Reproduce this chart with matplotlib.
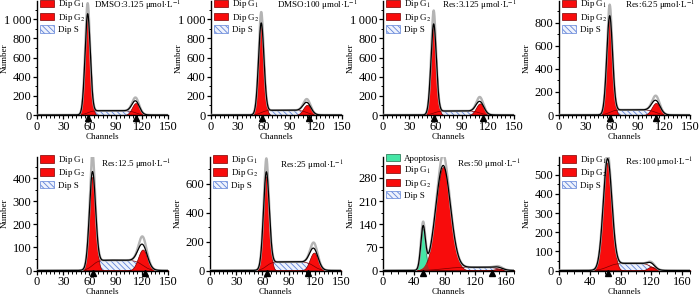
import numpy as np
import matplotlib
matplotlib.use('Agg')
import matplotlib.pyplot as plt
from matplotlib.patches import Patch
from matplotlib.ticker import FuncFormatter, MultipleLocator, AutoMinorLocator
import matplotlib.transforms as mtransforms

plt.rcParams['font.family'] = ['Liberation Serif', 'DejaVu Serif']
plt.rcParams['mathtext.fontset'] = 'stix'
plt.rcParams['hatch.linewidth'] = 0.6

# ---------------- data ----------------
titles = ["DMSO:3.125", "DMSO:100", "Res:3.125", "Res:6.25",
          "Res:12.5", "Res:25", "Res:50", "Res:100"]
x_max = [150, 150, 150, 150, 150, 150, 170, 170]
x_step = [30, 30, 30, 30, 30, 30, 40, 40]
y_max = [1190, 1190, 1190, 990, 495, 790, 345, 595]
y_step = [200, 200, 200, 200, 100, 200, 70, 100]

g1_pos = [58, 57.5, 58, 58, 63.5, 64.5, 78, 63]
g1_height = [1035, 936, 930, 840, 407, 654, 313, 565]
g1_raw_height = [1145, 1050, 1070, 936, 489, 747, 346, 590]
g1_width = [3.0, 3.1, 3.1, 3.3, 3.5, 3.3, 9.5, 5.6]

g2_pos = [113, 110, 111, 111, 121, 119, 150, 120]
g2_height = [125, 106, 121, 105, 91, 124, 5, 20]
g2_raw_height = [160, 141, 167, 145, 125, 163, 8, 25]
g2_width = [4.3, 4.5, 4.5, 4.8, 5.3, 4.8, 6.0, 5.0]

s_level = [45, 50, 42, 45, 45, 60, 10, 38]

apop_pos = [None, None, None, None, None, None, 52, None]
apop_height = [0, 0, 0, 0, 0, 0, 128, 0]
apop_raw_height = [0, 0, 0, 0, 0, 0, 140, 0]
apop_width = [1, 1, 1, 1, 1, 1, 3.0, 1]

tri_pos = [[58, 113], [58, 112], [58, 114], [58, 111],
           [64, 124], [65, 112], [52, 142], [63]]

# ---------------- layout ----------------
W, H = 700, 296
ax_left_px = [37, 211, 383, 559, 37, 210, 383, 559]
ax_bottom_px = [115, 115, 115, 115, 270.5, 270.5, 270.5, 270.5]
ax_w_px = 131
ax_h_px = 114
note_dx_px = [57, 66, 59, 66, 64, 70, 74, 66]
note_y = [0.955, 0.955, 0.955, 0.955, 0.93, 0.917, 0.93, 0.94]

RED = '#f80c0c'
RED_EDGE = '#7a0000'
HATCH_C = '#5f82d8'
HATCH_FC = '#eef2fc'
GREEN = '#45e6a6'


def gauss(x, m, h, s):
    return h * np.exp(-0.5 * ((x - m) / s) ** 2)


def sig(z):
    return 1.0 / (1.0 + np.exp(-z))


fig = plt.figure(figsize=(W / 100, H / 100), dpi=100)

for i in range(8):
    l = ax_left_px[i] / W
    b = 1 - ax_bottom_px[i] / H
    ax = fig.add_axes([l, b, ax_w_px / W, ax_h_px / H])
    x = np.linspace(0, x_max[i], 800)

    g1 = gauss(x, g1_pos[i], g1_height[i], g1_width[i])
    g2 = gauss(x, g2_pos[i], g2_height[i], g2_width[i])
    S = s_level[i] * sig((x - g1_pos[i]) / (1.0 * g1_width[i])) * \
        sig(-(x - g2_pos[i]) / (0.8 * g2_width[i]))
    g1r = g1 + gauss(x, g1_pos[i], g1_raw_height[i] - g1_height[i], g1_width[i] * 0.5)
    g2r = g2 + gauss(x, g2_pos[i], g2_raw_height[i] - g2_height[i], g2_width[i] * 0.7)
    fit = g1 + g2 + S
    raw = g1r + g2r + S
    if apop_pos[i] is not None:
        ap = gauss(x, apop_pos[i], apop_height[i], apop_width[i])
        apr = ap + gauss(x, apop_pos[i], apop_raw_height[i] - apop_height[i], apop_width[i] * 0.6)
        fit = fit + ap
        raw = raw + apr

    # components
    ax.fill_between(x, 0, S, facecolor=HATCH_FC, edgecolor=HATCH_C,
                    hatch='\\\\\\\\\\\\', lw=0, zorder=1)
    if apop_pos[i] is not None:
        ax.fill_between(x, 0, ap, facecolor=GREEN, edgecolor='#1d6b48', lw=0.5, zorder=2)
    ax.fill_between(x, 0, g1, facecolor=RED, edgecolor=RED_EDGE, lw=0.5, zorder=2)
    ax.fill_between(x, 0, g2, facecolor=RED, edgecolor=RED_EDGE, lw=0.5, zorder=2)
    if apop_pos[i] is not None:
        ax.fill_between(x, 0, np.minimum(ap, g1), facecolor='#b02a20', lw=0, zorder=2.5)
    ax.plot(x, S, color=RED_EDGE, lw=0.5, zorder=3)
    ax.plot(x, raw, color='#b4b4b4', lw=1.7, zorder=4, solid_capstyle='round')
    ax.plot(x, fit, color='black', lw=0.9, zorder=5)

    # axes style
    ax.set_xlim(0, x_max[i])
    ax.set_ylim(0, y_max[i])
    for s in ['top', 'right']:
        ax.spines[s].set_visible(False)
    for s in ['left', 'bottom']:
        ax.spines[s].set_linewidth(1.0)
    ax.xaxis.set_major_locator(MultipleLocator(x_step[i]))
    ax.xaxis.set_minor_locator(AutoMinorLocator(6 if x_step[i] == 30 else 4))
    ax.yaxis.set_major_locator(MultipleLocator(y_step[i]))
    ax.yaxis.set_minor_locator(AutoMinorLocator(2))
    ax.yaxis.set_major_formatter(FuncFormatter(
        lambda v, p: f"{int(round(v)):,}".replace(",", "\u2009")))
    ax.tick_params(which='major', direction='out', length=3, width=0.9,
                   labelsize=9, pad=1)
    ax.tick_params(which='minor', direction='out', length=1.8, width=0.7)

    ax.set_xlabel('Channels', fontsize=6.5)
    ax.set_ylabel('Number', fontsize=6.5)
    ax.xaxis.set_label_coords(0.5, -18 / ax_h_px)
    ax.yaxis.set_label_coords(-28 / ax_w_px, 0.5)

    # triangles marking peak means
    trans = mtransforms.blended_transform_factory(ax.transData, ax.transAxes)
    ax.plot(tri_pos[i], [-0.022] * len(tri_pos[i]), linestyle='none', marker='^',
            color='black', markersize=4, transform=trans, clip_on=False, zorder=6)

    # legend
    handles = []
    if apop_pos[i] is not None:
        handles.append(Patch(facecolor=GREEN, edgecolor='#1d6b48', lw=0.5, label='Apoptosis'))
    handles += [Patch(facecolor=RED, edgecolor=RED_EDGE, lw=0.5, label='Dip G$_1$'),
                Patch(facecolor=RED, edgecolor=RED_EDGE, lw=0.5, label='Dip G$_2$'),
                Patch(facecolor=HATCH_FC, edgecolor=HATCH_C, hatch='\\\\\\\\\\\\',
                      lw=0.5, label='Dip S')]
    ax.legend(handles=handles, loc='upper left', bbox_to_anchor=(0.015, 1.03),
              frameon=False, fontsize=6.5, handlelength=1.6, handleheight=0.9,
              labelspacing=0.15, borderpad=0.1, handletextpad=0.4, borderaxespad=0)

    ax.text(note_dx_px[i] / ax_w_px, note_y[i], f"{titles[i]} μmol·L$^{{-1}}$",
            transform=ax.transAxes, fontsize=6.5, ha='left', va='center', zorder=7)

fig.savefig('out.png', dpi=100)
